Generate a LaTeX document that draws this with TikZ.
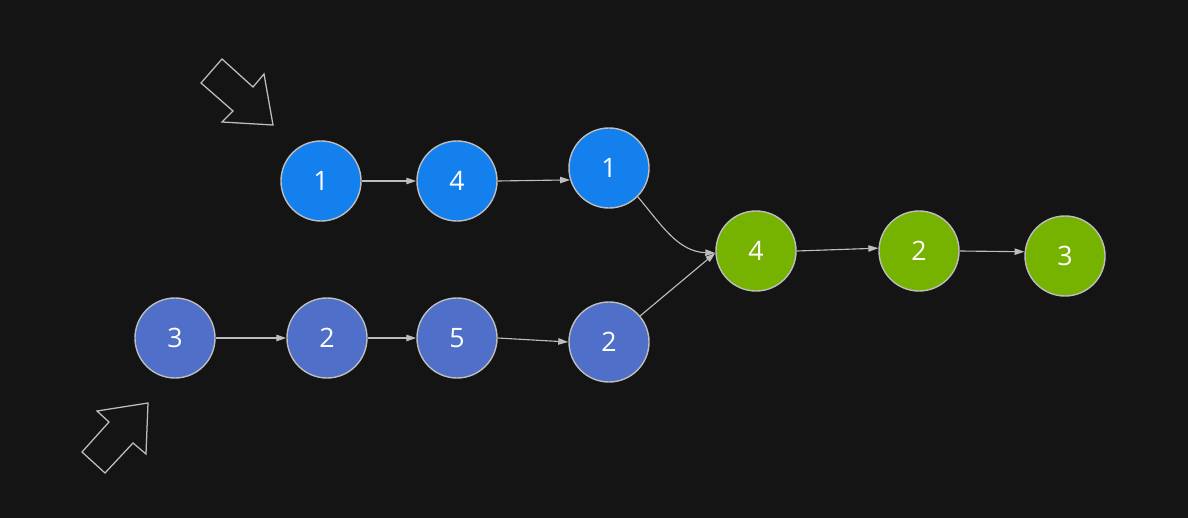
\documentclass[tikz,border=0pt]{standalone}
\usepackage{fontspec}
\setmainfont{Open Sans}
\usepackage{tikz}
\usetikzlibrary{arrows.meta, positioning}
\definecolor{bgdark}{HTML}{141414}
\definecolor{listA}{HTML}{1380EE}
\definecolor{listB}{HTML}{4F6FC9}
\definecolor{listC}{HTML}{76B300}
\definecolor{rim}{HTML}{BDBDBD}

\begin{document}
\begin{tikzpicture}[
  x=0.025cm, y=-0.025cm,
  font=\fontsize{19}{22}\selectfont,
  listnode/.style={circle, draw=rim, line width=1pt, text=white,
                   minimum size=2cm, inner sep=0pt},
  topnode/.style={listnode, fill=listA},
  botnode/.style={listnode, fill=listB},
  mergenode/.style={listnode, fill=listC},
  link/.style={-{Triangle[length=2.5mm, width=1.6mm]}, draw=rim, line width=0.8pt},
  pointer/.style={draw=rim, line width=0.9pt, line join=miter}
]
\fill[bgdark] (0,0) rectangle (1188,518);
\useasboundingbox (0,0) rectangle (1188,518);

% --- List A ---
\node[topnode] (a1) at (321,181) {1};
\node[topnode] (a2) at (457,181) {4};
\node[topnode] (a3) at (609,168) {1};

% --- List B ---
\node[botnode] (b1) at (175,338) {3};
\node[botnode] (b2) at (327,338) {2};
\node[botnode] (b3) at (457,338) {5};
\node[botnode] (b4) at (609,342) {2};

% --- Shared tail ---
\node[mergenode] (c1) at (756,251) {4};
\node[mergenode] (c2) at (919,251) {2};
\node[mergenode] (c3) at (1065,256) {3};

% --- links ---
\draw[link] (a1) -- (a2);
\draw[link] (a2.east) -- (a3.197);
\draw[link] (b1) -- (b2);
\draw[link] (b2) -- (b3);
\draw[link] (b3.east) -- (b4.west);
\draw[link] (a3.-45) to[out=-50, in=178] ([yshift=-0.05cm]c1.west);
\draw[link] (b4.40) -- ([yshift=-0.05cm]c1.west);
\draw[link] (c1.east) -- (c2.176);
\draw[link] (c2.east) -- (c3.174);

% --- head pointers ---
\draw[pointer] (222,59) -- (253,87) -- (264,74) -- (273,125) -- (222,122)
  -- (233,111) -- (201,83) -- cycle;
\draw[pointer] (97,411) -- (148,403) -- (146,454) -- (133,443) -- (105,473)
  -- (82,452) -- (109,422) -- cycle;
\end{tikzpicture}
\end{document}
